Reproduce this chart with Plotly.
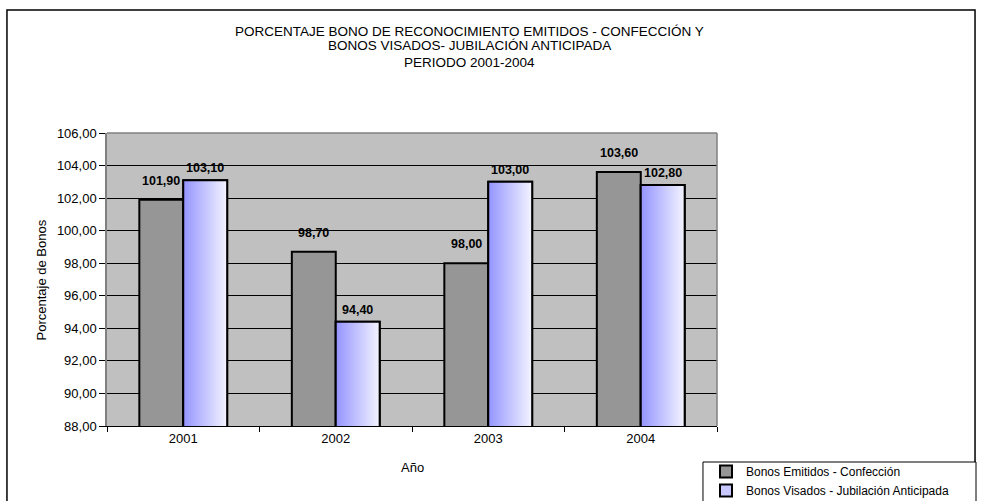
import plotly.graph_objects as go

# Data
years = ["2001", "2002", "2003", "2004"]
emitidos = [101.90, 98.70, 98.00, 103.60]
visados = [103.10, 94.40, 103.00, 102.80]
tick_vals = [88, 90, 92, 94, 96, 98, 100, 102, 104, 106]
title_lines = [
    "PORCENTAJE BONO DE RECONOCIMIENTO EMITIDOS - CONFECCIÓN Y",
    "BONOS VISADOS- JUBILACIÓN ANTICIPADA",
    "PERIODO 2001-2004",
]

name_emitidos = "Bonos Emitidos - Confección"
name_visados = "Bonos Visados - Jubilación Anticipada"

FONT = "Liberation Sans, Arial, sans-serif"
BAR_W = 0.288          # width of each bar in category units
N_STRIPS = 28          # slices used to shade the second series


def lerp_color(c0, c1, t):
    return "rgb({},{},{})".format(*[round(a + (b - a) * t) for a, b in zip(c0, c1)])


fig = go.Figure()

# First series: solid grey bars
fig.add_trace(go.Bar(
    x=years, y=emitidos, name=name_emitidos,
    offset=-BAR_W, width=BAR_W,
    marker=dict(color="#969696", line=dict(color="black", width=2)),
))

# Second series: base bar (also provides the legend swatch)
fig.add_trace(go.Bar(
    x=years, y=visados, name=name_visados,
    offset=0, width=BAR_W,
    marker=dict(color="#C8C8FF", line=dict(color="black", width=2)),
))

# Horizontal shading across the second series
c_left, c_right = (150, 150, 255), (242, 242, 255)
step = BAR_W / N_STRIPS
for i in range(N_STRIPS):
    off = i * step
    w = min(step * 1.8, BAR_W - off)
    fig.add_trace(go.Bar(
        x=years, y=visados, offset=off, width=w,
        marker=dict(color=lerp_color(c_left, c_right, i / (N_STRIPS - 1)), line=dict(width=0)),
        showlegend=False, hoverinfo="skip",
    ))

# Outline redrawn on top of the shading
fig.add_trace(go.Bar(
    x=years, y=visados, offset=0, width=BAR_W,
    marker=dict(color="rgba(0,0,0,0)", line=dict(color="black", width=2)),
    showlegend=False, hoverinfo="skip",
))


def fmt(v):
    return f"{v:.2f}".replace(".", ",")


LABEL_FONT = dict(family=FONT, size=12.5, color="black", weight="bold")
annotations = []
for i, v in enumerate(emitidos):
    annotations.append(dict(
        x=i - BAR_W / 2, y=v, xref="x", yref="y", text=fmt(v), showarrow=False,
        yanchor="bottom", yshift=10, font=LABEL_FONT,
    ))
for i, v in enumerate(visados):
    annotations.append(dict(
        x=i + BAR_W / 2, y=v, xref="x", yref="y", text=fmt(v), showarrow=False,
        yanchor="bottom", yshift=3, font=LABEL_FONT,
    ))

# Axis titles
annotations.append(dict(
    x=-0.1066, y=0.5, xref="paper", yref="paper", text="Porcentaje de Bonos",
    xanchor="center", yanchor="middle",
    textangle=-90, showarrow=False, font=dict(family=FONT, size=13, color="black"),
))
annotations.append(dict(
    x=0.5, y=-0.143, xref="paper", yref="paper", text="Año",
    xanchor="center", yanchor="middle",
    showarrow=False, font=dict(family=FONT, size=13, color="black"),
))

# Chart title, one line per annotation
for line, yy in zip(title_lines, [1.348, 1.297, 1.242]):
    annotations.append(dict(
        x=0.595, y=yy, xref="paper", yref="paper", yanchor="middle",
        text=line, showarrow=False, font=dict(family=FONT, size=13.5, color="black"),
    ))

shapes = [
    # outer chart frame
    dict(type="rect", xref="paper", yref="paper", x0=-0.164, x1=1.423, y0=-0.3, y1=1.42,
         line=dict(color="black", width=1.5), layer="below"),
    # plot-area frame (top, right)
    dict(type="line", xref="paper", yref="paper", x0=0, x1=1, y0=1, y1=1,
         line=dict(color="#808080", width=1.5)),
    dict(type="line", xref="paper", yref="paper", x0=1, x1=1, y0=0, y1=1,
         line=dict(color="#808080", width=1.5)),
    # legend box
    dict(type="rect", xref="paper", yref="paper", x0=0.977, x1=1.4246, y0=-0.3, y1=-0.1229,
         line=dict(color="black", width=1), fillcolor="white", layer="below"),
]

fig.update_layout(
    width=983, height=501,
    margin=dict(l=107, r=266, t=133, b=75, autoexpand=False),
    paper_bgcolor="white", plot_bgcolor="#C0C0C0",
    barmode="overlay", separators=",.",
    font=dict(family=FONT, size=13, color="black"),
    showlegend=True,
    legend=dict(
        xref="container", yref="container",
        x=706 / 983, y=1 - 457 / 501, xanchor="left", yanchor="top",
        borderwidth=0, bgcolor="rgba(0,0,0,0)",
        font=dict(family=FONT, size=12, color="black"),
        traceorder="normal", itemwidth=30,
        tracegroupgap=0,
    ),
    annotations=annotations, shapes=shapes,
)

fig.update_xaxes(
    type="category", categoryorder="array", categoryarray=years,
    range=[-0.5, 3.5], showgrid=False,
    showline=True, linecolor="black", linewidth=1,
    ticks="outside", tickson="boundaries", ticklen=5, tickcolor="black",
    tickfont=dict(family=FONT, size=13, color="black"),
)
fig.update_yaxes(
    range=[88, 106], tickvals=tick_vals, tickformat=".2f",
    showgrid=True, gridcolor="black", gridwidth=1,
    showline=True, linecolor="#808080", linewidth=1.5,
    ticks="outside", ticklen=6, tickcolor="black",
    tickfont=dict(family=FONT, size=13, color="black"),
    zeroline=False,
)

fig.write_html("out.html")
